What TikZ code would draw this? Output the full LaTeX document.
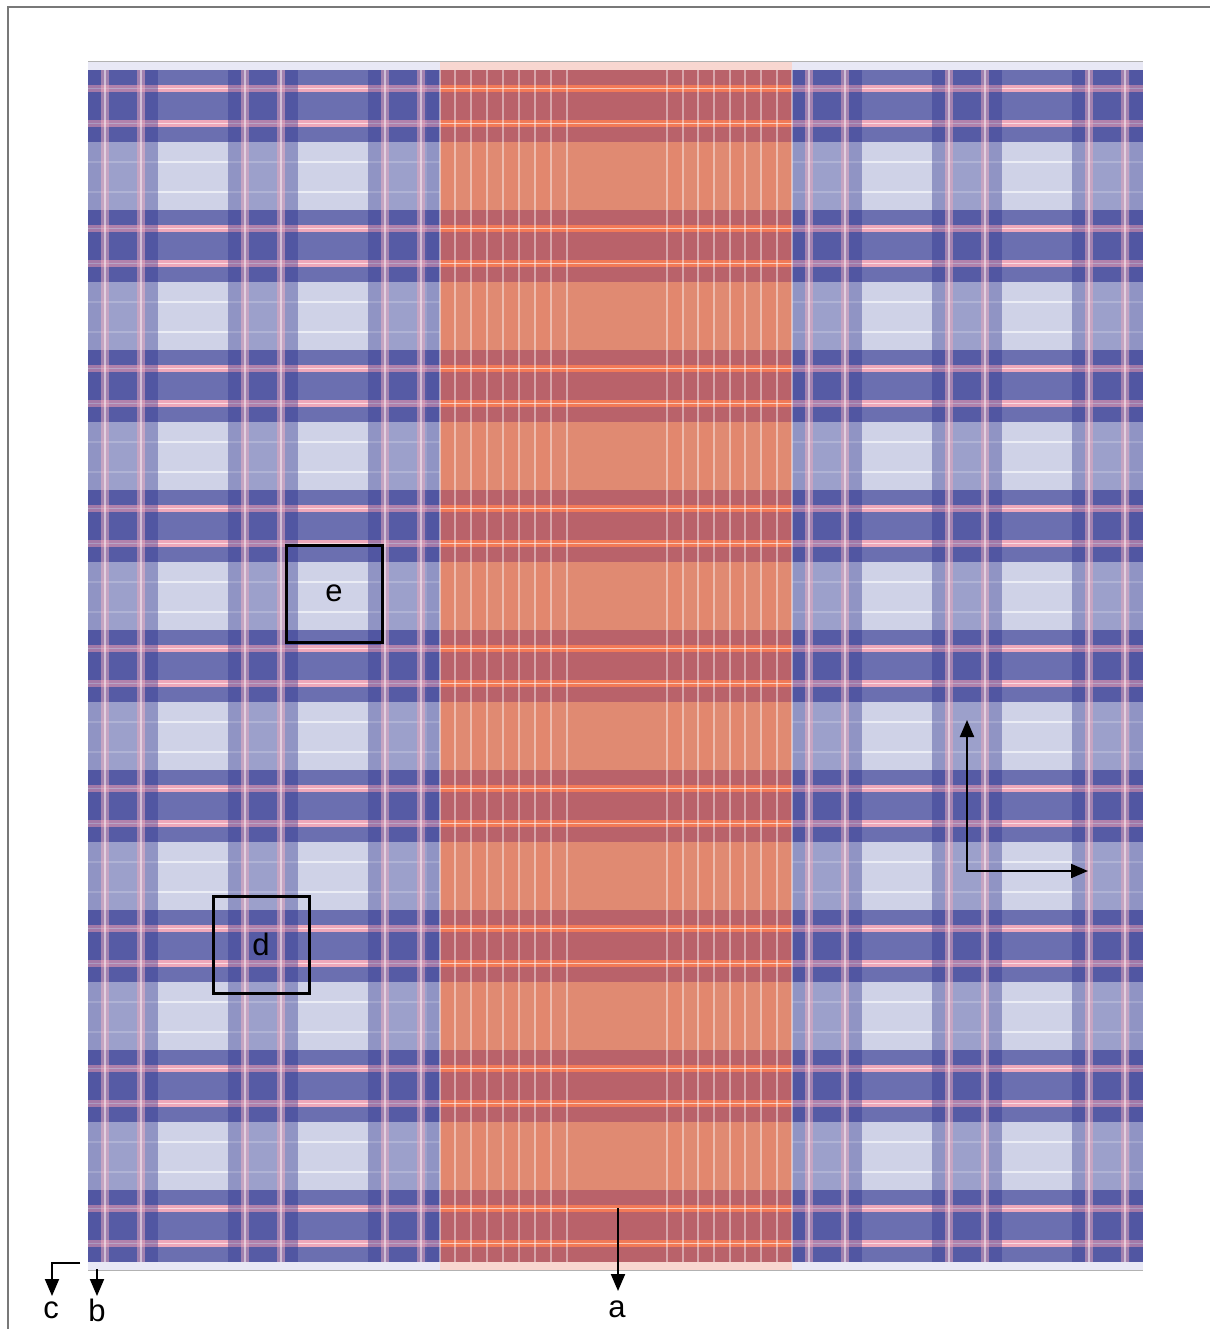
\documentclass[tikz,border=0pt]{standalone}
\usepackage{fontspec}
\setmainfont{Liberation Sans}
\usepackage{xcolor}
\definecolor{plaidlight}{RGB}{207,210,231}
\definecolor{plaidband}{RGB}{107,111,176}
\definecolor{plaidcol}{RGB}{40,45,140}
\definecolor{plaidpink}{RGB}{238,168,186}
\definecolor{plaidedge}{RGB}{232,232,245}
\definecolor{rustlight}{RGB}{224,138,114}
\definecolor{rustband}{RGB}{185,98,106}
\definecolor{rustpink}{RGB}{242,122,88}
\definecolor{rustedge}{RGB}{248,214,208}
\definecolor{framegray}{RGB}{120,120,120}
\usetikzlibrary{arrows.meta}

\begin{document}
\begin{tikzpicture}[x=1pt,y=-1pt,
  markbox/.style={draw,line width=3pt,minimum width=96pt,minimum height=97pt,inner sep=0pt,font=\fontsize{31}{36}\selectfont},
  tag/.style={inner sep=0pt,font=\fontsize{31}{36}\selectfont},
  pointer/.style={line width=2pt,-{Triangle[length=17pt,width=14pt]}},
  twoway/.style={line width=2pt,{Triangle[length=17pt,width=14pt]}-{Triangle[length=17pt,width=14pt]}}]
  \useasboundingbox (0,0) rectangle (1210,1329);
  % Frame
  \draw[framegray,line width=2.5pt] (8,1329) -- (8,7) -- (1210,7);
  % Cloth ground
  \fill[plaidedge] (88,62) rectangle (1143,1270);
  \fill[rustedge] (440,62) rectangle (792,1270);
  \draw[gray!60,line width=1pt] (88,62) -- (1143,62);
  \draw[gray!60,line width=1pt] (88,1270) -- (1143,1270);
  \fill[plaidlight] (88,70) rectangle (1143,1262);
  \fill[rustlight] (440,70) rectangle (792,1262);
  % Orange column tint
  \foreach \x in {440,471,503,535,667,698,730,761}{
    \fill[rustpink,opacity=0.15] (\x,70) rectangle (\x+16,1262);
  }
  % Horizontal bands
  \foreach \k in {0,...,8}{
    \pgfmathsetmacro{\y}{70+\k*140}
    \fill[plaidband] (88,\y) rectangle (1143,\y+72);
    \fill[rustband] (440,\y) rectangle (792,\y+72);
    \foreach \s in {15,50}{
      \fill[plaidpink] (88,\y+\s) rectangle (1143,\y+\s+7);
      \fill[rustpink] (440,\y+\s) rectangle (792,\y+\s+7);
      \draw[white,opacity=0.6,line width=1.2pt] (88,\y+\s+3.5) -- (1143,\y+\s+3.5);
    }
  }
  % Thin lines in the light bands
  \foreach \k in {0,...,7}{
    \pgfmathsetmacro{\y}{142+\k*140}
    \foreach \s in {20,50}{
      \draw[white,opacity=0.6,line width=1.2pt] (88,\y+\s) -- (440,\y+\s);
      \draw[white,opacity=0.6,line width=1.2pt] (792,\y+\s) -- (1143,\y+\s);
    }
  }
  % Vertical groups
  \foreach \x/\w in {88/70,228/70,368/72,792/70,932/70,1072/71}{
    \fill[plaidcol,opacity=0.3] (\x,70) rectangle (\x+\w,1262);
    \fill[plaidcol,opacity=0.1] (\x,70) rectangle (\x+13,1262);
    \fill[plaidcol,opacity=0.1] (\x+\w-13,70) rectangle (\x+\w,1262);
    \foreach \s in {13,49}{
      \fill[plaidpink,opacity=0.5] (\x+\s,70) rectangle (\x+\s+8,1262);
      \draw[white,opacity=0.5,line width=1.2pt] (\x+\s+4,70) -- (\x+\s+4,1262);
    }
  }
  % Orange threads
  \foreach \x in {440,455,471,487,503,519,535,551,567,667,683,698,714,730,745,761,777,792}{
    \draw[white,opacity=0.45,line width=1.5pt] (\x,70) -- (\x,1262);
  }
  % Marked areas
  \node[markbox] (e) at (334,593.5) {e};
  \node[markbox] (d) at (261,944.5) {d};
  % Axes
  \coordinate (up) at (967,720);
  \coordinate (right) at (1088,871);
  \draw[twoway] (up) |- (right);
  % Cut markers
  \coordinate (afrom) at (618,1208);
  \coordinate (ato) at (618,1291);
  \coordinate (bfrom) at (97,1269);
  \coordinate (bto) at (97,1296);
  \coordinate (cfrom) at (80,1263);
  \coordinate (cto) at (52,1296);
  \draw[pointer] (afrom) -- (ato);
  \draw[pointer] (bfrom) -- (bto);
  \draw[pointer] (cfrom) -| (cto);
  \node[tag] (a) at (617,1309) {a};
  \node[tag] (b) at (97,1310) {b};
  \node[tag] (c) at (51,1310) {c};
\end{tikzpicture}
\end{document}
